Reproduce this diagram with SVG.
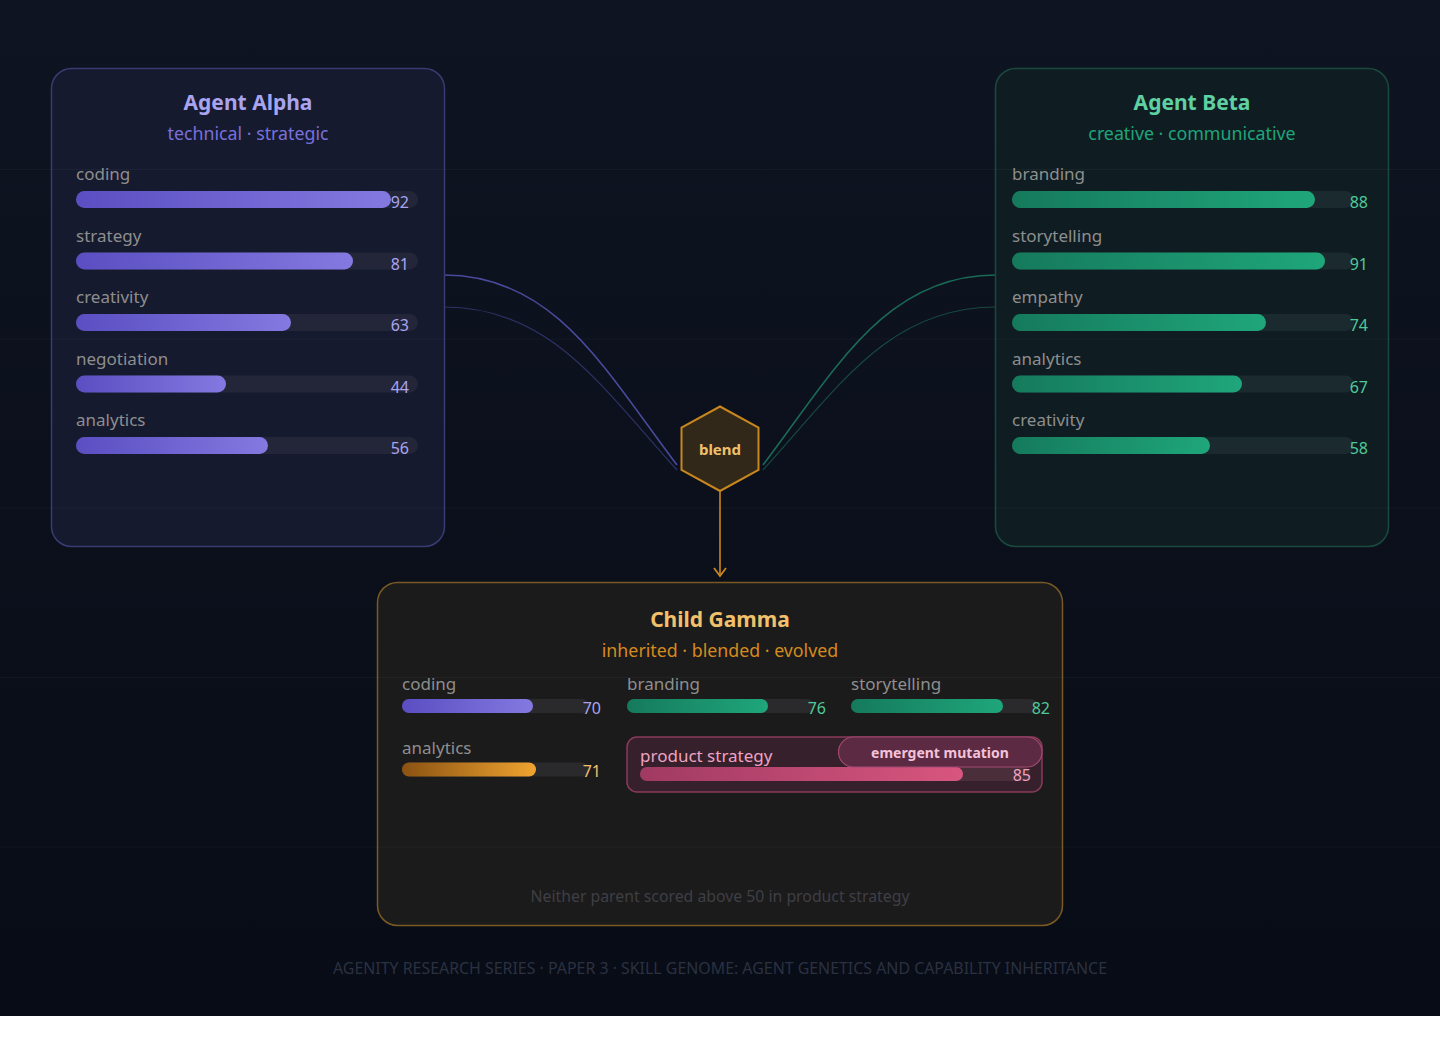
<svg xmlns="http://www.w3.org/2000/svg" width="1440" height="1038" viewBox="0 0 1440 1038">
<defs>
<linearGradient id="bg" x1="0" y1="0" x2="0" y2="1"><stop offset="0" stop-color="#0e1421"/><stop offset="1" stop-color="#080c16"/></linearGradient>
<linearGradient id="gA" x1="0" y1="0" x2="1" y2="0"><stop offset="0" stop-color="#5a4ec2"/><stop offset="1" stop-color="#8479e0"/></linearGradient>
<linearGradient id="gB" x1="0" y1="0" x2="1" y2="0"><stop offset="0" stop-color="#157a5c"/><stop offset="1" stop-color="#1fa67a"/></linearGradient>
<linearGradient id="gO" x1="0" y1="0" x2="1" y2="0"><stop offset="0" stop-color="#8a5212"/><stop offset="1" stop-color="#f0a430"/></linearGradient>
<linearGradient id="gP" x1="0" y1="0" x2="1" y2="0"><stop offset="0" stop-color="#a03a62"/><stop offset="1" stop-color="#d8567f"/></linearGradient>
<style>
text{font-family:"Noto Sans","Open Sans",sans-serif}
.title{font-size:21px;font-weight:700;text-anchor:middle}
.sub{font-size:17.8px;text-anchor:middle}
.lbl{font-size:17px;fill:#8e8e8e}
.val{font-size:16px;text-anchor:end}
.trA{fill:#222638}
.trB{fill:#1b2a2e}
.trC{fill:#2a2a2c}
.grid{stroke:#ffffff;stroke-opacity:0.035;stroke-width:1}
</style>
</defs>
<rect x="0" y="0" width="1440" height="1038" fill="#ffffff"/>
<rect x="0" y="0" width="1440" height="1016" fill="url(#bg)"/>

<g id="connectors" fill="none">
<path d="M444,275 C555,275 605,370 677,465" stroke="#4a4a9c" stroke-width="1.6"/>
<path d="M444,307 C550,307 600,385 677,470" stroke="#2f3266" stroke-width="1.2"/>
<path d="M996,275 C885,275 835,370 763,465" stroke="#1a6a55" stroke-width="1.6"/>
<path d="M996,307 C890,307 840,385 763,470" stroke="#164a40" stroke-width="1.2"/>
<line x1="720" y1="491" x2="720" y2="576" stroke="#c8861e" stroke-width="1.6"/>
<polyline points="714,568 720,576 726,568" stroke="#c8861e" stroke-width="1.8"/>
</g>

<g id="agent-alpha">
<rect x="51.5" y="68.5" width="393" height="478" rx="20" fill="#161a2e" stroke="#3b3a72" stroke-width="1.5"/>
<text class="title" x="248" y="110" fill="#a9a4f0">Agent Alpha</text>
<text class="sub" x="248" y="140" fill="#7a70dc">technical · strategic</text>
<g>
<text class="lbl" x="76" y="180">coding</text>
<rect class="trA" x="76" y="191" width="342" height="17" rx="8.5"/>
<rect x="76" y="191" width="315" height="17" rx="8.5" fill="url(#gA)"/>
<text class="val" x="409" y="208" fill="#a9a4f0">92</text>
</g>
<g>
<text class="lbl" x="76" y="241.5">strategy</text>
<rect class="trA" x="76" y="252.5" width="342" height="17" rx="8.5"/>
<rect x="76" y="252.5" width="277" height="17" rx="8.5" fill="url(#gA)"/>
<text class="val" x="409" y="269.5" fill="#a9a4f0">81</text>
</g>
<g>
<text class="lbl" x="76" y="303">creativity</text>
<rect class="trA" x="76" y="314" width="342" height="17" rx="8.5"/>
<rect x="76" y="314" width="215" height="17" rx="8.5" fill="url(#gA)"/>
<text class="val" x="409" y="331" fill="#a9a4f0">63</text>
</g>
<g>
<text class="lbl" x="76" y="364.5">negotiation</text>
<rect class="trA" x="76" y="375.5" width="342" height="17" rx="8.5"/>
<rect x="76" y="375.5" width="150" height="17" rx="8.5" fill="url(#gA)"/>
<text class="val" x="409" y="392.5" fill="#a9a4f0">44</text>
</g>
<g>
<text class="lbl" x="76" y="426">analytics</text>
<rect class="trA" x="76" y="437" width="342" height="17" rx="8.5"/>
<rect x="76" y="437" width="192" height="17" rx="8.5" fill="url(#gA)"/>
<text class="val" x="409" y="454" fill="#a9a4f0">56</text>
</g>
</g>

<g id="agent-beta">
<rect x="995.5" y="68.5" width="393" height="478" rx="20" fill="#0f1d22" stroke="#1a4a3e" stroke-width="1.5"/>
<text class="title" x="1192" y="110" fill="#5fd0a2">Agent Beta</text>
<text class="sub" x="1192" y="140" fill="#1fa57a">creative · communicative</text>
<g>
<text class="lbl" x="1012" y="180">branding</text>
<rect class="trB" x="1012" y="191" width="342" height="17" rx="8.5"/>
<rect x="1012" y="191" width="303" height="17" rx="8.5" fill="url(#gB)"/>
<text class="val" x="1368" y="208" fill="#4fc99a">88</text>
</g>
<g>
<text class="lbl" x="1012" y="241.5">storytelling</text>
<rect class="trB" x="1012" y="252.5" width="342" height="17" rx="8.5"/>
<rect x="1012" y="252.5" width="313" height="17" rx="8.5" fill="url(#gB)"/>
<text class="val" x="1368" y="269.5" fill="#4fc99a">91</text>
</g>
<g>
<text class="lbl" x="1012" y="303">empathy</text>
<rect class="trB" x="1012" y="314" width="342" height="17" rx="8.5"/>
<rect x="1012" y="314" width="254" height="17" rx="8.5" fill="url(#gB)"/>
<text class="val" x="1368" y="331" fill="#4fc99a">74</text>
</g>
<g>
<text class="lbl" x="1012" y="364.5">analytics</text>
<rect class="trB" x="1012" y="375.5" width="342" height="17" rx="8.5"/>
<rect x="1012" y="375.5" width="230" height="17" rx="8.5" fill="url(#gB)"/>
<text class="val" x="1368" y="392.5" fill="#4fc99a">67</text>
</g>
<g>
<text class="lbl" x="1012" y="426">creativity</text>
<rect class="trB" x="1012" y="437" width="342" height="17" rx="8.5"/>
<rect x="1012" y="437" width="198" height="17" rx="8.5" fill="url(#gB)"/>
<text class="val" x="1368" y="454" fill="#4fc99a">58</text>
</g>
</g>

<g id="blend">
<polygon points="720,406.5 758.5,427.5 758.5,470 720,491 681.5,470 681.5,427.5" fill="#312819" stroke="#c8861e" stroke-width="2"/>
<text x="720" y="455" text-anchor="middle" font-size="15" font-weight="700" fill="#f2c06a">blend</text>
</g>

<g id="child-gamma">
<rect x="377.5" y="582.5" width="685" height="343" rx="20" fill="#1b1b1c" stroke="#7a5a22" stroke-width="1.5"/>
<text class="title" x="720" y="627" fill="#f2c06a">Child Gamma</text>
<text class="sub" x="720" y="657" fill="#d68a1e">inherited · blended · evolved</text>
<g>
<text class="lbl" x="402" y="690">coding</text>
<rect class="trC" x="402" y="699" width="187" height="14" rx="7"/>
<rect x="402" y="699" width="131" height="14" rx="7" fill="url(#gA)"/>
<text class="val" x="601" y="714" fill="#a9a4f0">70</text>
</g>
<g>
<text class="lbl" x="627" y="690">branding</text>
<rect class="trC" x="627" y="699" width="187" height="14" rx="7"/>
<rect x="627" y="699" width="141" height="14" rx="7" fill="url(#gB)"/>
<text class="val" x="826" y="714" fill="#4fc99a">76</text>
</g>
<g>
<text class="lbl" x="851" y="690">storytelling</text>
<rect class="trC" x="851" y="699" width="187" height="14" rx="7"/>
<rect x="851" y="699" width="152" height="14" rx="7" fill="url(#gB)"/>
<text class="val" x="1050" y="714" fill="#4fc99a">82</text>
</g>
<g>
<text class="lbl" x="402" y="754">analytics</text>
<rect class="trC" x="402" y="762.5" width="187" height="14" rx="7"/>
<rect x="402" y="762.5" width="134" height="14" rx="7" fill="url(#gO)"/>
<text class="val" x="601" y="777" fill="#f2c06a">71</text>
</g>
<g>
<rect x="627" y="737" width="415" height="55" rx="10" fill="#35202b" stroke="#8a3a5a" stroke-width="1.5"/>
<text class="lbl" x="640" y="762" style="fill:#f0a2c2">product strategy</text>
<rect x="640" y="767" width="390" height="14" rx="7" fill="#4a2e39"/>
<rect x="640" y="767" width="323" height="14" rx="7" fill="url(#gP)"/>
<text class="val" x="1031" y="781" fill="#f0a2c2">85</text>
<rect x="838.5" y="737" width="203.5" height="30" rx="15" fill="#5c2a42" stroke="#a24a72" stroke-width="1.2"/>
<text x="940" y="758" text-anchor="middle" font-size="14" font-weight="700" fill="#f4c2d8">emergent mutation</text>
</g>
<text x="720" y="902" text-anchor="middle" font-size="15.8" fill="#3f3f45">Neither parent scored above 50 in product strategy</text>
</g>

<g id="gridlines">
<line class="grid" x1="0" y1="169.5" x2="1440" y2="169.5"/>
<line class="grid" x1="0" y1="339" x2="1440" y2="339"/>
<line class="grid" x1="0" y1="508" x2="1440" y2="508"/>
<line class="grid" x1="0" y1="677.5" x2="1440" y2="677.5"/>
<line class="grid" x1="0" y1="847" x2="1440" y2="847"/>
</g>

<text x="720" y="974" text-anchor="middle" font-size="16" fill="#2b3141" textLength="774" lengthAdjust="spacingAndGlyphs">AGENITY RESEARCH SERIES · PAPER 3 · SKILL GENOME: AGENT GENETICS AND CAPABILITY INHERITANCE</text>
</svg>
